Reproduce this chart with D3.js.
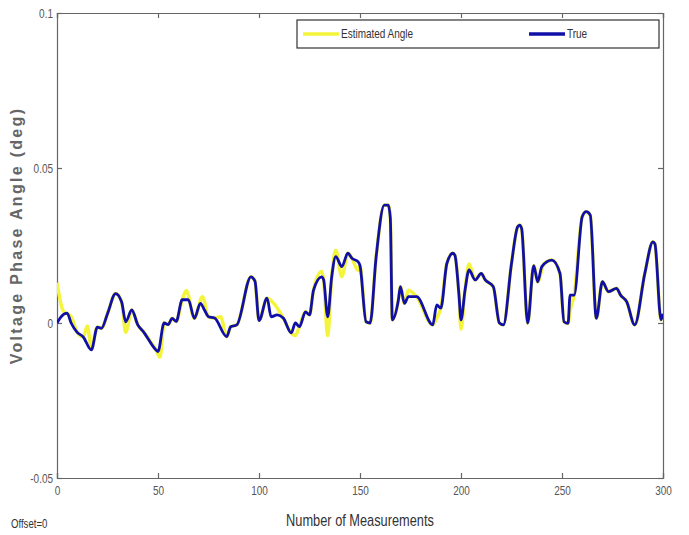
<!DOCTYPE html>
<html>
<head>
<meta charset="utf-8">
<script src="https://cdn.jsdelivr.net/npm/d3@7"></script>
<style>
  body { margin: 0; background: #fff; }
  svg { display: block; }
  .ax text { font-family: "Liberation Sans", Arial, sans-serif; font-size: 12.5px; fill: #555; }
</style>
</head>
<body>
<div id="chart"></div>
<script>
// data
var xTicks = [0, 50, 100, 150, 200, 250, 300];
var yTicks = [-0.05, 0, 0.05, 0.1];
var yTickLabels = ["-0.05", "0", "0.05", "0.1"];
var seriesNames = ["Estimated Angle", "True"];

var trueX = [0, 2, 5, 7, 10, 13, 17, 20, 22, 25, 29, 32, 34, 37, 40, 43, 49, 50, 53, 55, 57, 59, 62, 65, 68, 71, 73, 75, 78, 84, 86, 89, 96, 98, 100, 104, 106, 109, 112, 116, 118, 120, 123, 125, 127, 131, 132, 134, 136, 138, 141, 144, 146, 149, 150, 153, 155, 158, 162, 164, 165, 166, 169, 170, 172, 174, 178, 186, 188, 190, 193, 196, 197, 199, 200, 202, 204, 207, 210, 212, 216, 219, 221, 225, 228, 229, 230, 233, 236, 238, 240, 245, 249, 251, 253, 254, 256, 260, 262, 264, 267, 270, 273, 277, 279, 282, 286, 291, 295, 296, 299, 300];
var trueY = [0.0, 0.002, 0.0032, 0.0, -0.003, -0.0045, -0.0087, -0.0013, -0.0017, 0.003, 0.0095, 0.0068, 0.0004, 0.0042, -0.0006, -0.003, -0.0087, -0.0092, 0.0, -0.0005, 0.0015, 0.0005, 0.0075, 0.0075, 0.0015, 0.0063, 0.0042, 0.002, 0.0016, -0.0044, -0.0012, -0.0006, 0.0149, 0.0135, 0.0008, 0.008, 0.002, 0.0026, 0.0016, -0.0032, 0.0, -0.0012, 0.0036, 0.0026, 0.0106, 0.0149, 0.0139, 0.002, 0.0149, 0.0214, 0.0182, 0.0225, 0.0209, 0.0198, 0.0185, 0.0004, 0.0, 0.0214, 0.038, 0.038, 0.034, 0.001, 0.0074, 0.0117, 0.0063, 0.0085, 0.0085, -0.0006, 0.0058, 0.0048, 0.0192, 0.0225, 0.0218, 0.009, 0.001, 0.0106, 0.0171, 0.0139, 0.016, 0.0139, 0.0117, 0.0, -0.0006, 0.0192, 0.031, 0.0316, 0.0305, 0.0, 0.0185, 0.0133, 0.0182, 0.0203, 0.016, 0.0004, -0.0001, 0.009, 0.009, 0.0343, 0.0359, 0.0348, 0.0015, 0.0133, 0.0101, 0.0112, 0.009, 0.0069, -0.0006, 0.016, 0.0262, 0.0255, 0.001, 0.003];

var estX = [0, 3, 7, 10, 13, 15, 17, 20, 22, 25, 29, 32, 34, 37, 40, 43, 49, 51, 53, 55, 57, 59, 62, 64, 68, 72, 75, 78, 81, 84, 86, 89, 96, 98, 100, 104, 108, 112, 116, 118, 120, 123, 125, 127, 131, 132, 134, 136, 138, 141, 144, 146, 149, 150, 153, 155, 158, 162, 164, 165, 166, 169, 170, 172, 174, 178, 186, 188, 190, 193, 196, 197, 199, 200, 202, 204, 207, 210, 212, 216, 219, 221, 225, 228, 229, 230, 233, 236, 238, 241, 245, 249, 251, 253, 254, 256, 260, 262, 264, 267, 270, 273, 277, 279, 282, 286, 291, 295, 296, 299, 300];
var estY = [0.013, 0.004, 0.002, -0.003, -0.0045, -0.001, -0.008, -0.0013, -0.0017, 0.003, 0.0095, 0.0068, -0.003, 0.0042, -0.0006, -0.003, -0.0087, -0.011, 0.0, -0.0005, 0.0015, 0.0005, 0.0075, 0.0105, 0.0015, 0.0085, 0.002, 0.0016, 0.002, -0.0044, -0.0012, -0.0006, 0.0149, 0.0135, 0.0008, 0.008, 0.0058, 0.0016, -0.0032, -0.004, -0.0012, 0.0036, 0.0026, 0.0106, 0.0166, 0.0139, -0.004, 0.0149, 0.0235, 0.015, 0.0225, 0.0209, 0.017, 0.0185, 0.0004, 0.0, 0.0214, 0.038, 0.038, 0.034, 0.001, 0.0074, 0.0117, 0.0063, 0.0106, 0.0085, -0.0006, 0.0016, 0.0048, 0.0192, 0.0225, 0.0218, 0.009, -0.002, 0.0106, 0.019, 0.0139, 0.016, 0.0139, 0.0117, 0.0, -0.0006, 0.0192, 0.031, 0.0316, 0.0305, 0.0, 0.0185, 0.0133, 0.019, 0.0203, 0.016, 0.0004, -0.0001, 0.004, 0.009, 0.0343, 0.0359, 0.0348, 0.0015, 0.0133, 0.0101, 0.0112, 0.009, 0.0069, -0.0006, 0.016, 0.0262, 0.0255, 0.001, 0.003];

var W = 689, H = 535;
var margin = {top: 13, right: 26, bottom: 57, left: 57};
var width = W - margin.left - margin.right;
var height = H - margin.top - margin.bottom;
var narrow = "scale(0.8,1)";

var svg = d3.select("#chart").append("svg")
    .attr("width", W)
    .attr("height", H);

var g = svg.append("g")
    .attr("transform", "translate(" + [margin.left, margin.top] + ")");

var x = d3.scaleLinear().domain([0, 300]).range([0, width]);
var y = d3.scaleLinear().domain([-0.05, 0.1]).range([height, 0]);

// axes, MATLAB style: ticks inward on all four sides
var tk = 5;
g.append("g").attr("class", "ax")
    .attr("transform", "translate(0," + height + ")")
    .call(d3.axisBottom(x).tickValues(xTicks).tickSize(-tk).tickPadding(8).tickFormat(d3.format("d")));
g.append("g").attr("class", "ax")
    .call(d3.axisTop(x).tickValues(xTicks).tickSize(-tk).tickFormat(""));
g.append("g").attr("class", "ax")
    .call(d3.axisLeft(y).tickValues(yTicks).tickSize(-tk).tickPadding(5)
      .tickFormat(function(d, i) { return yTickLabels[i]; }));
g.append("g").attr("class", "ax")
    .attr("transform", "translate(" + width + ",0)")
    .call(d3.axisRight(y).tickValues(yTicks).tickSize(-tk).tickFormat(""));

g.selectAll(".ax path, .ax line").attr("stroke", "#666").attr("stroke-width", 1.2);
g.selectAll(".ax text").attr("transform", narrow);

g.append("clipPath").attr("id", "clip").append("rect")
    .attr("width", width).attr("height", height);

var estData = estX.map(function(d, i) { return [d, estY[i]]; });
var trueData = trueX.map(function(d, i) { return [d, trueY[i]]; });

var line = d3.line()
    .x(function(d) { return x(d[0]); })
    .y(function(d) { return y(d[1]); })
    .curve(d3.curveMonotoneX);

var plot = g.append("g").attr("clip-path", "url(#clip)");
plot.append("path").datum(estData)
    .attr("d", line)
    .attr("fill", "none")
    .attr("stroke", "#f4f43a")
    .attr("stroke-width", 3.5)
    .attr("stroke-linejoin", "round");
plot.append("path").datum(trueData)
    .attr("d", line)
    .attr("fill", "none")
    .attr("stroke", "#1010a8")
    .attr("stroke-width", 2.8)
    .attr("stroke-linejoin", "round");

// legend
var lg = svg.append("g").attr("transform", "translate(297,20)");
lg.append("rect").attr("width", 362).attr("height", 28)
    .attr("fill", "#fff").attr("stroke", "#333").attr("stroke-width", 1.2);
var legColors = ["#f4f43a", "#1010a8"];
var legX = [6, 232];
seriesNames.forEach(function(name, i) {
  lg.append("line").attr("x1", legX[i]).attr("x2", legX[i] + 36)
      .attr("y1", 14).attr("y2", 14)
      .attr("stroke", legColors[i]).attr("stroke-width", 3.5);
  lg.append("text")
      .attr("transform", "translate(" + (legX[i] + 38) + ",18) " + narrow)
      .attr("font-family", "'Liberation Sans', Arial, sans-serif")
      .attr("font-size", 12.5).attr("fill", "#333").text(name);
});

// labels
svg.append("text")
    .attr("transform", "translate(22," + (margin.top + height / 2 - 10) + ") rotate(-90)")
    .attr("text-anchor", "middle")
    .attr("font-family", "'Liberation Sans', Arial, sans-serif")
    .attr("font-size", 16).attr("font-weight", "bold").attr("fill", "#666")
    .attr("letter-spacing", 2.3)
    .text("Voltage Phase Angle (deg)");

svg.append("text")
    .attr("transform", "translate(" + (margin.left + width / 2) + ",526) " + narrow)
    .attr("text-anchor", "middle")
    .attr("font-family", "'Liberation Sans', Arial, sans-serif")
    .attr("font-size", 16).attr("fill", "#333")
    .text("Number of Measurements");

svg.append("text")
    .attr("transform", "translate(11,528) " + narrow)
    .attr("font-family", "'Liberation Sans', Arial, sans-serif")
    .attr("font-size", 12).attr("fill", "#333")
    .text("Offset=0");
</script>
</body>
</html>
